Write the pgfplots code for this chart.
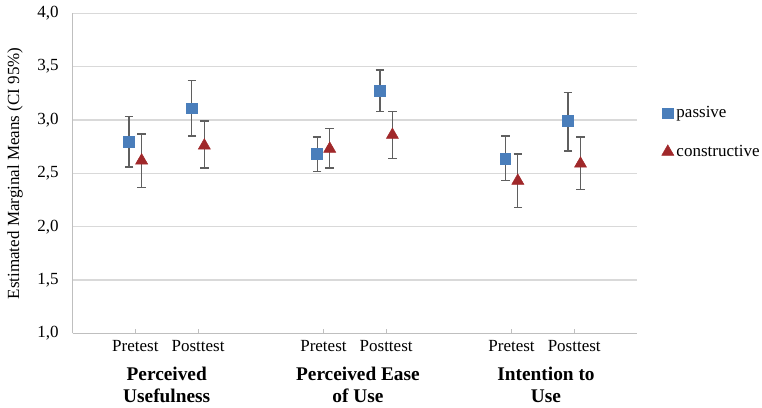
\documentclass[border=0pt]{standalone}
\usepackage{pgfplots}
\pgfplotsset{compat=1.18}
\usepackage{fontspec}
\setmainfont{Liberation Serif}

\definecolor{pasblue}{HTML}{4A7EBB}
\definecolor{conred}{HTML}{A0282A}
\definecolor{errgray}{HTML}{5F5F5F}
\definecolor{gridgray}{HTML}{D9D9D9}
\definecolor{axisgray}{HTML}{BFBFBF}

% x, mean, upper CI distance, lower CI distance
\pgfplotstableread{
x    y     ep    em
0.9  2.80  0.23  0.24
1.9  3.11  0.26  0.26
3.9  2.68  0.16  0.16
4.9  3.27  0.20  0.19
6.9  2.64  0.21  0.21
7.9  2.99  0.27  0.28
}\passive

\pgfplotstableread{
x    y     ep    em
1.1  2.62  0.25  0.25
2.1  2.76  0.23  0.21
4.1  2.73  0.19  0.18
5.1  2.86  0.22  0.22
7.1  2.43  0.25  0.25
8.1  2.59  0.25  0.24
}\constructive

\begin{document}
\begin{tikzpicture}
\useasboundingbox (-54.5pt,-55.3pt) rectangle (517pt,250pt);
\begin{axis}[
  scale only axis,
  width=423.2pt, height=240pt,
  xmin=0, xmax=9,
  ymin=1, ymax=4,
  ytick={1,1.5,...,4},
  xtick={1,2,4,5,7,8},
  xticklabels={Pretest,Posttest,Pretest,Posttest,Pretest,Posttest},
  axis x line=bottom, axis y line=left,
  axis line style={-, axisgray, line width=0.8pt},
  ymajorgrids, grid style={gridgray, line width=0.8pt},
  ytick style={draw=none},
  xtick style={axisgray, line width=0.8pt},
  tick align=inside, major tick length=3pt,
  tick label style={font=\fontsize{12.75}{15}\selectfont},
  xticklabel style={anchor=base, yshift=-13.8pt},
  yticklabel style={xshift=-7pt},
  /pgf/number format/.cd, use comma, fixed, fixed zerofill, precision=1, assume math mode=true,
  /pgfplots/.cd,
  ylabel={Estimated Marginal Means (CI 95\%)},
  ylabel style={at={(axis description cs:-0.1023,0.5)}, anchor=center, rotate=0,
    font=\fontsize{12.75}{15}\selectfont},
  clip=false,
  legend style={at={(axis description cs:1.0436,0.6275)}, anchor=west,
    draw=none, fill=none, inner sep=0pt, row sep=15pt,
    font=\fontsize{12.75}{15}\selectfont},
  legend cell align=left,
  legend image code/.code={\draw[mark repeat=1, mark phase=1, #1] plot coordinates {(0pt,0pt)};},
  error bars/error bar style={errgray, line width=1pt},
  error bars/error mark options={errgray, line width=1pt, mark size=3.2pt, rotate=90},
]
\addplot[only marks, mark=square*, mark size=4.1pt, color=pasblue, mark options={draw=pasblue, fill=pasblue},
  error bars/.cd, y dir=both, y explicit]
  table[x=x, y=y, y error plus=ep, y error minus=em] {\passive};
\addlegendentry{passive}
\addplot[only marks, mark=triangle*, mark size=5.2pt, color=conred, mark options={draw=conred, fill=conred},
  error bars/.cd, y dir=both, y explicit]
  table[x=x, y=y, y error plus=ep, y error minus=em] {\constructive};
\addlegendentry{constructive}

\begin{scope}[font=\fontsize{14.5}{17}\selectfont\bfseries]
\node[anchor=base, yshift=-35pt] at (axis cs:1.5,1) {Perceived};
\node[anchor=base, yshift=-51.7pt] at (axis cs:1.5,1) {Usefulness};
\node[anchor=base, yshift=-35pt] at (axis cs:4.55,1) {Perceived Ease};
\node[anchor=base, yshift=-51.7pt] at (axis cs:4.55,1) {of Use};
\node[anchor=base, yshift=-35pt] at (axis cs:7.55,1) {Intention to};
\node[anchor=base, yshift=-51.7pt] at (axis cs:7.55,1) {Use};
\end{scope}
\end{axis}
\end{tikzpicture}
\end{document}
